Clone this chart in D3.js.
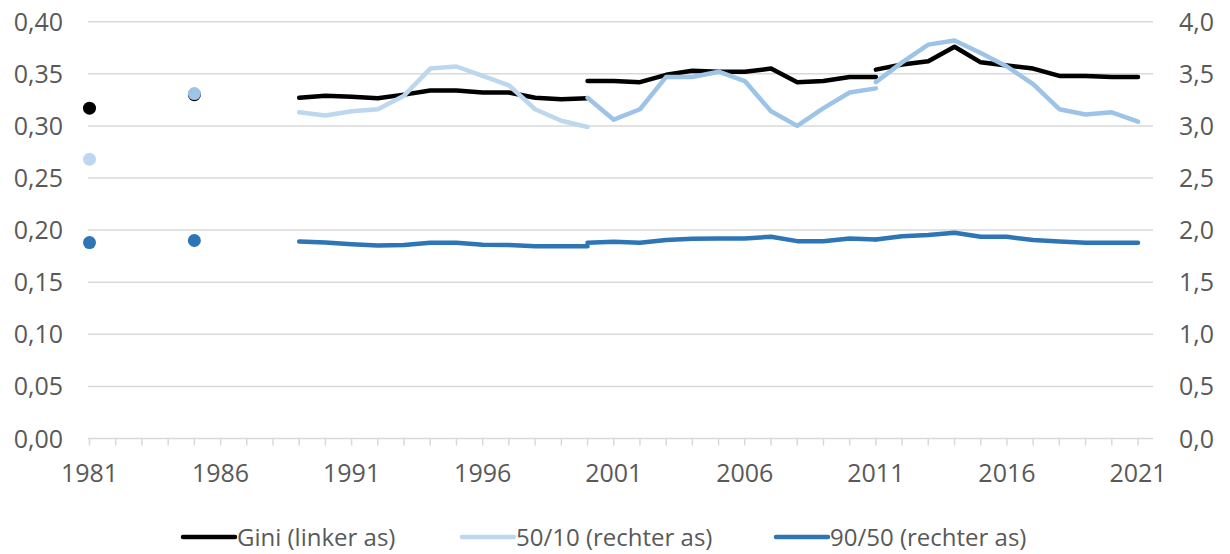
<!DOCTYPE html>
<html>
<head>
<meta charset="utf-8">
<script src="https://cdn.jsdelivr.net/npm/d3@7"></script>
<style>
  body { margin: 0; background: #fff; }
  svg { display: block; font-family: "Open Sans", sans-serif; }
</style>
</head>
<body>
<svg id="chart" width="1230" height="554"></svg>
<script>
// Data.
var dotYears = [1981, 1985];
var giniDots = [0.317, 0.330];
var p5010Dots = [2.68, 3.31];
var p9050Dots = [1.88, 1.90];

var years1 = [1989, 1990, 1991, 1992, 1993, 1994, 1995, 1996, 1997, 1998, 1999, 2000];
var gini1 = [0.327, 0.329, 0.328, 0.3265, 0.330, 0.334, 0.334, 0.332, 0.332, 0.327, 0.3255, 0.3265];
var p5010_1 = [3.13, 3.10, 3.14, 3.16, 3.29, 3.55, 3.57, 3.48, 3.39, 3.16, 3.05, 2.99];
var p9050_1 = [1.89, 1.88, 1.865, 1.853, 1.856, 1.878, 1.878, 1.859, 1.856, 1.846, 1.846, 1.846];

var years2 = [2000, 2001, 2002, 2003, 2004, 2005, 2006, 2007, 2008, 2009, 2010, 2011];
var gini2 = [0.343, 0.343, 0.342, 0.349, 0.353, 0.352, 0.352, 0.355, 0.342, 0.343, 0.347, 0.347];
var p5010_2 = [3.27, 3.06, 3.16, 3.47, 3.47, 3.52, 3.43, 3.14, 3.00, 3.17, 3.32, 3.36];
var p9050_2 = [1.878, 1.888, 1.878, 1.904, 1.917, 1.92, 1.92, 1.936, 1.894, 1.894, 1.92, 1.91];

var years3 = [2011, 2012, 2013, 2014, 2015, 2016, 2017, 2018, 2019, 2020, 2021];
var gini3 = [0.354, 0.359, 0.362, 0.376, 0.361, 0.358, 0.355, 0.348, 0.348, 0.347, 0.347];
var p5010_3 = [3.42, 3.61, 3.78, 3.82, 3.70, 3.57, 3.40, 3.16, 3.11, 3.13, 3.04];
var p9050_3 = [1.91, 1.942, 1.952, 1.974, 1.936, 1.936, 1.904, 1.89, 1.878, 1.878, 1.878];

var leftTicks = [0, 0.05, 0.10, 0.15, 0.20, 0.25, 0.30, 0.35, 0.40];
var rightTicks = [0, 0.5, 1.0, 1.5, 2.0, 2.5, 3.0, 3.5, 4.0];
var xLabelYears = [1981, 1986, 1991, 1996, 2001, 2006, 2011, 2016, 2021];

var legendItems = [
  { label: "Gini (linker as)", color: "#000000", x: 183 },
  { label: "50/10 (rechter as)", color: "#BDD7EE", x: 462 },
  { label: "90/50 (rechter as)", color: "#2E75B6", x: 776 }
];

var cBlack = "#000000", cLight = "#BDD7EE", cMid = "#9DC3E6", cDark = "#2E75B6";
var textColor = "#595959", gridColor = "#D9D9D9";

var svg = d3.select("#chart");

var x = d3.scaleLinear().domain([1981, 2021]).range([89.5, 1138]);
var yL = d3.scaleLinear().domain([0, 0.4]).range([438.5, 21.7]);
var yR = d3.scaleLinear().domain([0, 4]).range([438.5, 21.7]);
var gridLeft = 88, gridRight = 1153;

// Gridlines
svg.append("g").selectAll("line")
    .data(leftTicks.slice(1))
    .enter().append("line")
    .attr("x1", gridLeft).attr("x2", gridRight)
    .attr("y1", function(d) { return yL(d); })
    .attr("y2", function(d) { return yL(d); })
    .attr("stroke", gridColor).attr("stroke-width", 1.5);

// x axis line and year ticks
svg.append("line")
    .attr("x1", gridLeft).attr("x2", gridRight)
    .attr("y1", yL(0)).attr("y2", yL(0))
    .attr("stroke", gridColor).attr("stroke-width", 1.5);

svg.append("g").selectAll("line")
    .data(d3.range(1981, 2022))
    .enter().append("line")
    .attr("x1", function(d) { return x(d); })
    .attr("x2", function(d) { return x(d); })
    .attr("y1", yL(0)).attr("y2", yL(0) + 7)
    .attr("stroke", gridColor).attr("stroke-width", 1.5);

// Axis labels
svg.append("g").selectAll("text")
    .data(leftTicks)
    .enter().append("text")
    .attr("x", 63)
    .attr("y", function(d) { return yL(d); })
    .attr("dy", "0.36em")
    .attr("text-anchor", "end")
    .attr("fill", textColor)
    .style("font-size", "25px")
    .text(function(d) { return d3.format(".2f")(d).replace(".", ","); });

svg.append("g").selectAll("text")
    .data(rightTicks)
    .enter().append("text")
    .attr("x", 1179)
    .attr("y", function(d) { return yR(d); })
    .attr("dy", "0.36em")
    .attr("fill", textColor)
    .style("font-size", "25px")
    .text(function(d) { return d3.format(".1f")(d).replace(".", ","); });

svg.append("g").selectAll("text")
    .data(xLabelYears)
    .enter().append("text")
    .attr("x", function(d) { return x(d); })
    .attr("y", 482)
    .attr("text-anchor", "middle")
    .attr("fill", textColor)
    .style("font-size", "25px")
    .text(function(d) { return d; });

// Line segments
function drawSeg(years, vals, yScale, color) {
  var line = d3.line()
      .x(function(d, i) { return x(years[i]); })
      .y(function(d) { return yScale(d); });
  svg.append("path")
      .datum(vals)
      .attr("d", line)
      .attr("fill", "none")
      .attr("stroke", color)
      .attr("stroke-width", 4.5)
      .attr("stroke-linejoin", "round")
      .attr("stroke-linecap", "round");
}

function drawDots(vals, yScale, colors) {
  svg.append("g").selectAll("circle")
      .data(vals)
      .enter().append("circle")
      .attr("cx", function(d, i) { return x(dotYears[i]); })
      .attr("cy", function(d) { return yScale(d); })
      .attr("r", 6.5)
      .attr("fill", function(d, i) { return colors[i]; });
}

drawDots(giniDots, yL, [cBlack, cBlack]);
drawSeg(years1, gini1, yL, cBlack);
drawSeg(years2, gini2, yL, cBlack);
drawSeg(years3, gini3, yL, cBlack);

drawDots(p5010Dots, yR, [cLight, cMid]);
drawSeg(years1, p5010_1, yR, cLight);
drawSeg(years2, p5010_2, yR, cMid);
drawSeg(years3, p5010_3, yR, cMid);

drawDots(p9050Dots, yR, [cDark, cDark]);
drawSeg(years1, p9050_1, yR, cDark);
drawSeg(years2, p9050_2, yR, cDark);
drawSeg(years3, p9050_3, yR, cDark);

// Legend
var lg = svg.append("g").selectAll("g")
    .data(legendItems)
    .enter().append("g")
    .attr("transform", function(d) { return "translate(" + d.x + ",537)"; });

lg.append("line")
    .attr("x1", 0).attr("x2", 52)
    .attr("stroke", function(d) { return d.color; })
    .attr("stroke-width", 4.5)
    .attr("stroke-linecap", "round");

lg.append("text")
    .attr("x", 54)
    .attr("dy", "0.36em")
    .attr("fill", textColor)
    .style("font-size", "24px")
    .text(function(d) { return d.label; });
</script>
</body>
</html>
